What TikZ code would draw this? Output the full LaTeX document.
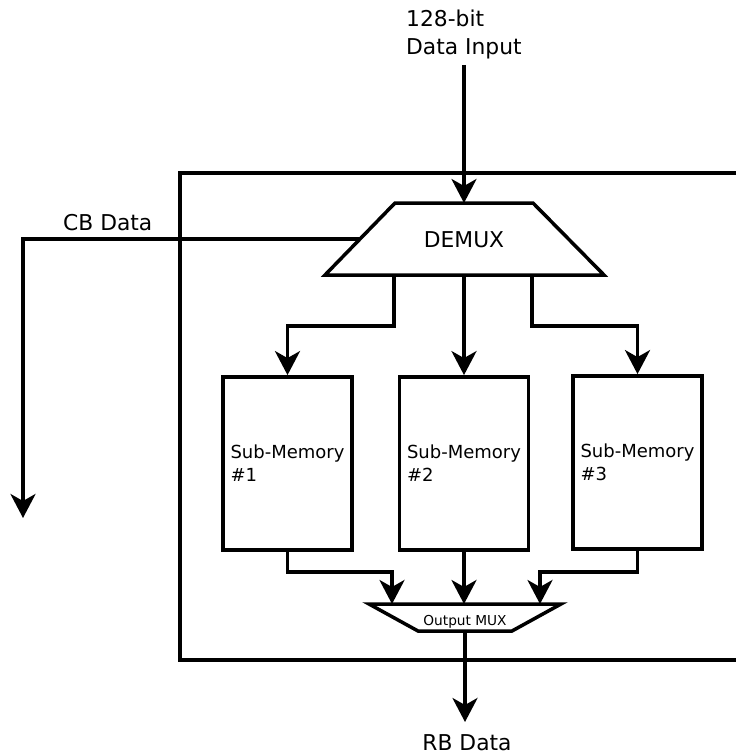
\documentclass[tikz,border=0pt]{standalone}
\usepackage{fontspec}
\setmainfont{DejaVu Sans}
\usetikzlibrary{arrows.meta}
\begin{document}
\begin{tikzpicture}[x=1pt,y=-1pt,
  wire/.style={line width=3.5pt,line join=miter},
  arr/.style={wire,-{Stealth[length=24pt,width=25pt,inset=7pt]}},
  biglabel/.style={font=\fontsize{21.8}{28}\selectfont,inner sep=0pt},
  membox/.style={draw,line width=3.8pt,minimum width=129pt,minimum height=173pt,
    align=left,inner sep=0pt,font=\fontsize{18}{23}\selectfont},
  muxlabel/.style={font=\fontsize{13.7}{15}\selectfont,inner sep=0pt}]
\useasboundingbox (0,0) rectangle (736,754);

% enclosing frame (open on the right)
\draw[wire] (736,173) -- (180,173) -- (180,660) -- (736,660);

% demultiplexer
\coordinate (dmxtl) at (395,203);
\coordinate (dmxtr) at (533,203);
\coordinate (dmxbr) at (604,275);
\coordinate (dmxbl) at (325,275);
\draw[wire] (dmxtl) -- (dmxtr) -- (dmxbr) -- (dmxbl) -- cycle;
\node[biglabel] (demux) at (464,240) {DEMUX};
\coordinate (dmxtop) at (464,203);
\coordinate (dmxo1) at (394,275);
\coordinate (dmxo2) at (464,275);
\coordinate (dmxo3) at (532,275);
\coordinate (cbstart) at (360,239);

% input
\node[biglabel,anchor=base west,align=left] (inlabel) at (406,55) {128-bit\\Data Input};
\coordinate (instart) at (464,65);
\draw[arr] (instart) -- (dmxtop);

% CB output
\node[biglabel,anchor=base west] (cblabel) at (63,230) {CB Data};
\coordinate (cbend) at (23,518);
\draw[arr] (cbstart) -| (cbend);

% sub-memories
\node[membox] (sm1) at (287.5,463.5) {Sub-Memory\\\#1};
\node[membox] (sm2) at (464,463.5) {Sub-Memory\\\#2};
\node[membox] (sm3) at (637.5,462.5) {Sub-Memory\\\#3};

\coordinate (br1) at (394,326);
\coordinate (br3) at (532,326);
\draw[arr] (dmxo1) -- (br1) -| (sm1.north);
\draw[arr] (dmxo2) -- (sm2.north);
\draw[arr] (dmxo3) -- (br3) -| (sm3.north);

% output multiplexer
\coordinate (muxtl) at (369,604);
\coordinate (muxtr) at (561,604);
\coordinate (muxbr) at (512,631);
\coordinate (muxbl) at (418,631);
\draw[wire] (muxtl) -- (muxtr) -- (muxbr) -- (muxbl) -- cycle;
\node[muxlabel,anchor=base] (mux) at (465,625) {Output MUX};
\coordinate (muxin1) at (392,604);
\coordinate (muxin2) at (464,604);
\coordinate (muxin3) at (540,604);
\coordinate (muxout) at (465,631);

\coordinate (j1) at (287.5,572);
\coordinate (j3) at (637.5,572);
\draw[arr] (sm1.south) -- (j1) -| (muxin1);
\draw[arr] (sm2.south) -- (muxin2);
\draw[arr] (sm3.south) -- (j3) -| (muxin3);

% RB output
\coordinate (rbend) at (465,722);
\draw[arr] (muxout) -- (rbend);
\node[biglabel,anchor=base] (rblabel) at (467,750) {RB Data};
\end{tikzpicture}
\end{document}
